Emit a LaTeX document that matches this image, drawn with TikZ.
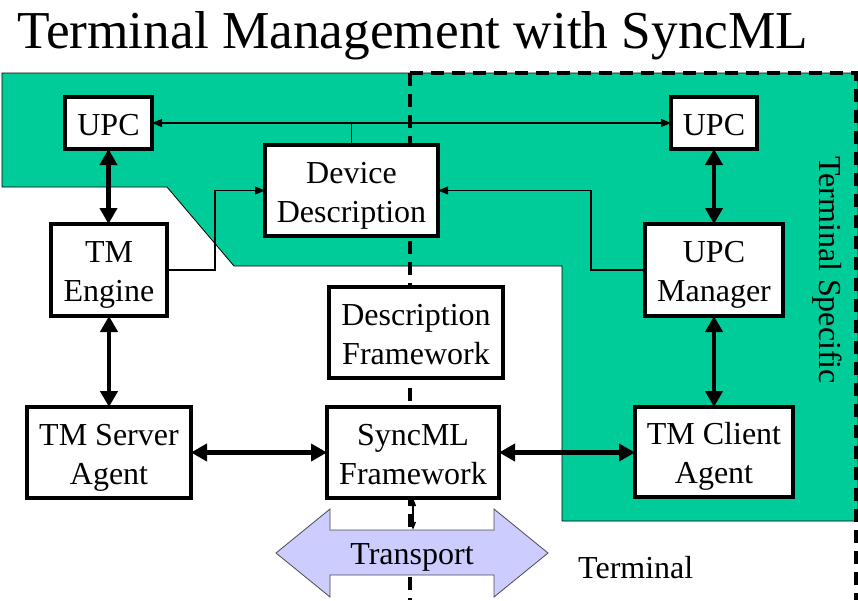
\documentclass[tikz,border=0pt]{standalone}
\usepackage{fontspec}
\setmainfont{Liberation Serif}
\usetikzlibrary{arrows.meta}
\definecolor{termgreen}{RGB}{0,204,153}
\definecolor{transportfill}{RGB}{204,204,255}
\tikzset{
  box/.style={draw=black, line width=3.5pt, fill=white, inner sep=0pt, outer sep=0pt,
    align=center, font=\fontsize{32}{39}\selectfont, text height=24pt, text depth=0pt},
  twoline/.style={text height=63pt, text depth=0pt},
  thickarrow/.style={line width=4.5pt, {Triangle[length=16pt,width=17pt]}-{Triangle[length=16pt,width=17pt]}},
  thinline/.style={line width=1.1pt},
  thinarrow/.style={thinline, -{Triangle[length=10pt,width=8pt]}},
  smallarrow/.style={line width=1.1pt, {Triangle[length=8pt,width=6pt]}-{Triangle[length=8pt,width=6pt]}},
  dashline/.style={line width=3.2pt, dash pattern=on 13pt off 8pt},
  label/.style={font=\fontsize{32}{39}\selectfont, inner sep=0pt, text height=24pt, text depth=0pt}
}
\begin{document}
\begin{tikzpicture}[x=1pt, y=-1pt]
\useasboundingbox (0,0) rectangle (858,600);

% terminal-specific region
\draw[fill=termgreen, line width=0.8pt]
  (2,73) -- (858,73) -- (858,521) -- (562,521) -- (562,266)
  -- (234,266) -- (167,187) -- (2,187) -- cycle;

% terminal boundary
\draw[dashline] (410,73) -- (410,600);
\draw[dashline] (410,73) -- (856,73) -- (856,600);

% title
\node[anchor=base west, inner sep=0pt, font=\fontsize{53.3}{60}\selectfont] (title) at (17,48)
  {Terminal Management with SyncML};

% transport arrow
\draw[fill=transportfill, draw=black!70, line width=0.8pt]
  (276,553) -- (330,509) -- (330,530) -- (494,530) -- (494,509) -- (548,553)
  -- (494,597) -- (494,575) -- (330,575) -- (330,597) -- cycle;
\node[label, minimum width=164pt, minimum height=45pt] (transport) at (412,552.5) {Transport};

% boxes
\node[box, minimum width=87pt,  minimum height=52pt] (upcL)    at (108.5,123) {UPC};
\node[box, minimum width=86pt,  minimum height=52pt] (upcR)    at (714,123)   {UPC};
\node[box, twoline, minimum width=173pt, minimum height=91pt] (devdesc) at (351.5,190.5) {Device\\Description};
\node[box, twoline, minimum width=116pt, minimum height=92pt] (tmeng)   at (109,270)   {TM\\Engine};
\node[box, twoline, minimum width=138pt, minimum height=92pt] (upcmgr)  at (714,270)   {UPC\\Manager};
\node[box, twoline, minimum width=174pt, minimum height=91pt] (descfw)  at (416,332.5) {Description\\Framework};
\node[box, twoline, minimum width=164pt, minimum height=91pt] (tmsrv)   at (109,452.5) {TM Server\\Agent};
\node[box, twoline, minimum width=172pt, minimum height=91pt] (syncml)  at (413,452.5) {SyncML\\Framework};
\node[box, twoline, minimum width=158pt, minimum height=90pt] (tmcli)   at (714,452)   {TM Client\\Agent};

% labels
\node[label, rotate=-90, anchor=base] (termspec) at (819,270) {Terminal Specific};
\node[label, anchor=base west] (terminal) at (578,578) {Terminal};

% device description feeds both UPCs
\draw[thinline, {Triangle[length=10pt,width=8pt]}-{Triangle[length=10pt,width=8pt]}] (upcL.east) -- (upcR.west);
\draw[thinline] (devdesc.north) -- (devdesc.north |- upcL.east);

% inputs to the device description
\draw[thinarrow] (tmeng.east) -- ++(48,0) |- (devdesc.west);
\draw[thinarrow] (upcmgr.west) -- ++(-54,0) |- (devdesc.east);

% main data paths
\draw[thickarrow] (upcL.south) -- (upcL.south |- tmeng.north);
\draw[thickarrow] (tmeng.south) -- (tmeng.south |- tmsrv.north);
\draw[thickarrow] (tmsrv.east) -- (syncml.west);
\draw[thickarrow] (syncml.east) -- (syncml.east -| tmcli.west);
\draw[thickarrow] (upcR.south) -- (upcR.south |- upcmgr.north);
\draw[thickarrow] (upcmgr.south) -- (upcmgr.south |- tmcli.north);

% SyncML to transport
\draw[smallarrow] (syncml.south) -- (syncml.south |- transport.north);
\end{tikzpicture}
\end{document}
